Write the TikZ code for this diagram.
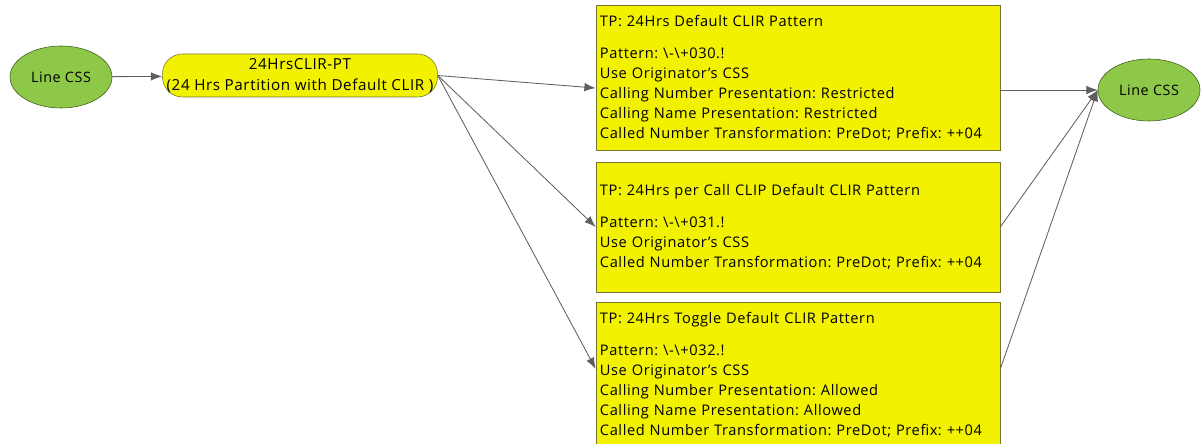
\documentclass[tikz,border=0pt]{standalone}
\usepackage{fontspec}
\setmainfont{Open Sans}[LetterSpace=4]
\usetikzlibrary{arrows.meta,shapes.geometric}
\definecolor{cssgreen}{RGB}{142,200,72}
\definecolor{tpyellow}{RGB}{242,242,0}
\definecolor{tpborder}{RGB}{118,118,52}
\definecolor{linkgray}{RGB}{95,95,95}
\tikzset{
  css/.style={ellipse,draw=cssgreen!45!black,fill=cssgreen,inner sep=0pt,
    minimum width=2.55cm,minimum height=1.55cm,font=\fontsize{10.2}{12}\selectfont},
  ptbox/.style={rectangle,rounded corners=0.5cm,draw=tpborder,fill=tpyellow,
    minimum width=6.875cm,minimum height=1.075cm,inner sep=0pt,align=center,
    font=\fontsize{10.8}{15}\selectfont},
  tpbox/.style={rectangle,draw=tpborder,fill=tpyellow,text width=9.9cm,
    inner xsep=0.1cm,inner ysep=0pt,align=left,font=\fontsize{10.4}{14.2}\selectfont},
  link/.style={draw=linkgray,line width=0.6pt,-{Latex[length=8pt,width=6pt]}}
}
\frenchspacing
\begin{document}
\begin{tikzpicture}[x=0.025cm,y=-0.025cm]
\useasboundingbox (0,0) rectangle (1204,444);

\node[css] (linein) at (61,77) {Line CSS};
\node[ptbox] (pt) at (300,75.5) {24HrsCLIR-PT\\(24 Hrs Partition with Default CLIR )};

\node[tpbox,minimum height=3.625cm] (tp1) at (798,77.5) {TP: 24Hrs Default CLIR Pattern\\[0.3cm]
Pattern: \textbackslash-\textbackslash+030.!\\
Use Originator's CSS\\
Calling Number Presentation: Restricted\\
Calling Name Presentation: Restricted\\
Called Number Transformation: PreDot; Prefix: ++04};
\node[tpbox,minimum height=3.25cm] (tp2) at (798,227) {TP: 24Hrs per Call CLIP Default CLIR Pattern\\[0.3cm]
Pattern: \textbackslash-\textbackslash+031.!\\
Use Originator's CSS\\
Called Number Transformation: PreDot; Prefix: ++04};
\node[tpbox,minimum height=3.625cm] (tp3) at (798,374.5) {TP: 24Hrs Toggle Default CLIR Pattern\\[0.3cm]
Pattern: \textbackslash-\textbackslash+032.!\\
Use Originator's CSS\\
Calling Number Presentation: Allowed\\
Calling Name Presentation: Allowed\\
Called Number Transformation: PreDot; Prefix: ++04};

\node[css] (lineout) at (1149,90) {Line CSS};

\draw[link] (linein) -- (pt);
\draw[link] (pt.east) -- ([yshift=-7.5pt]tp1.west);
\draw[link] (pt.east) -- (tp2.west);
\draw[link] (pt.east) -- ([yshift=4pt]tp3.west);
\draw[link] (tp1.east |- lineout.west) -- (lineout.west);
\draw[link] (tp2.east) -- (lineout.west);
\draw[link] ([yshift=4pt]tp3.east) -- (lineout.west);
\end{tikzpicture}
\end{document}
